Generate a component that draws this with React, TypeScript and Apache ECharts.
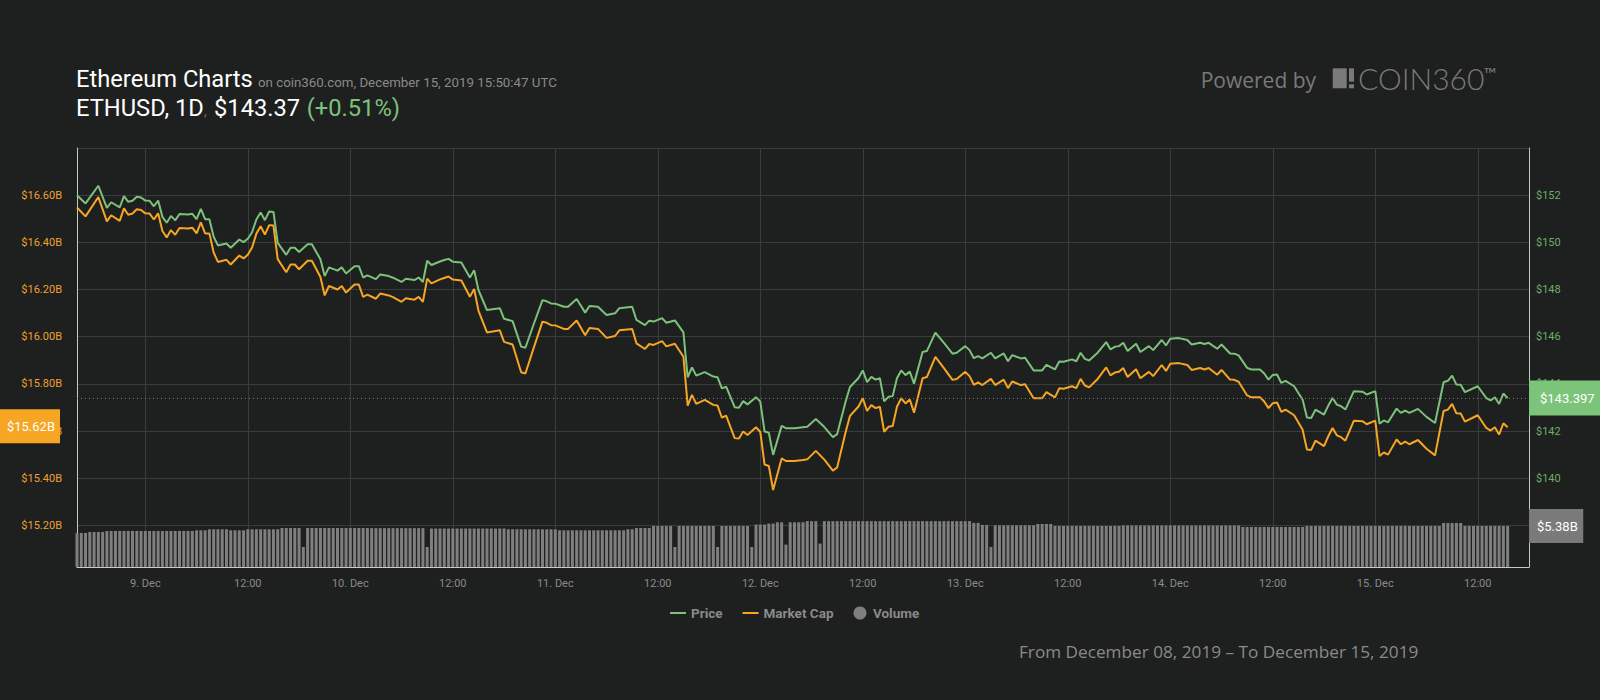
import React, { useEffect, useRef } from "react";
import * as echarts from "echarts";

// ---- data ----
// hours since 8 Dec 2019 00:00
const priceHours = [
  16, 17, 18.5, 19.5, 20, 21, 21.5, 22, 22.5, 23, 23.5, 24, 24.5, 25, 25.5, 26, 26.5, 27, 27.5, 28,
  29, 29.5, 30, 30.5, 31, 31.5, 32, 32.5, 33.5, 34, 35, 35.5, 36, 36.5, 37, 37.5, 38, 38.5, 39, 39.5,
  40.5, 41, 41.5, 42, 43, 43.5, 44.5, 45, 45.5, 46.5, 47, 47.5, 48.5, 49, 49.5, 50, 51, 51.5, 52.5, 53,
  54, 54.5, 55.5, 56, 56.5, 57, 57.5, 58.5, 59, 59.5, 60, 61, 62, 62.5, 63, 64, 65.5, 66, 67, 68,
  68.5, 69.5, 70.5, 71, 71.5, 72, 73, 73.5, 74.5, 75.5, 76, 77, 78, 79, 79.5, 81, 81.5, 82.5, 83, 83.5,
  84.5, 85, 86, 87, 87.5, 88, 88.5, 89.5, 90.5, 91, 91.5, 92, 93, 93.5, 94, 94.5, 95.5, 96, 96.5, 97,
  97.5, 98.5, 99, 100, 101, 101.5, 102.5, 103.5, 104.5, 105, 106, 106.5, 107.5, 108, 108.5, 109, 109.5, 110, 110.5, 111,
  111.5, 112, 112.5, 113, 113.5, 114, 115, 115.5, 116.5, 117.5, 118.5, 119, 120, 120.5, 121, 121.5, 122, 123, 123.5, 124.5,
  125, 125.5, 126.5, 127, 128, 129, 129.5, 130.5, 131, 131.5, 132.5, 133, 133.5, 134, 134.5, 135.5, 136.5, 137, 137.5, 138,
  138.5, 139, 140, 140.5, 141.5, 142, 143, 143.5, 144, 145, 146, 146.5, 147.5, 148, 148.5, 149.5, 150, 151, 151.5, 152,
  153, 153.5, 154.5, 155, 155.5, 156, 156.5, 157, 157.5, 158.5, 159.5, 160, 160.5, 161, 162, 162.5, 163, 163.5, 164, 164.5,
  165.5, 166.5, 167, 168, 168.5, 169, 169.5, 170.5, 171, 171.5, 172, 173, 174, 175, 176, 176.5, 177, 177.5, 178, 178.5,
  180, 181, 181.5, 182, 182.5, 183, 183.5,
];

const priceUsd = [
  152.0, 151.65, 152.4, 151.46, 151.7, 151.48, 151.96, 151.72, 151.76, 151.93, 151.9, 151.77, 151.76, 151.53, 151.77, 151.08, 150.83, 151.12, 150.93, 151.2,
  151.18, 151.21, 150.98, 151.42, 150.98, 150.98, 150.24, 149.87, 149.95, 149.77, 150.12, 150.01, 150.15, 150.43, 150.97, 151.27, 150.94, 151.31, 151.29, 149.98,
  149.47, 149.77, 149.77, 149.59, 149.92, 149.92, 149.28, 148.57, 148.94, 148.8, 148.94, 148.68, 148.99, 148.99, 148.51, 148.6, 148.44, 148.64, 148.57, 148.5,
  148.32, 148.46, 148.4, 148.51, 148.32, 149.22, 149.04, 149.19, 149.25, 149.3, 149.18, 149.15, 148.51, 148.82, 147.98, 147.13, 147.21, 146.76, 146.66, 145.58,
  145.53, 146.56, 147.55, 147.5, 147.41, 147.4, 147.27, 147.27, 147.6, 147.02, 147.3, 147.27, 146.92, 146.99, 147.21, 147.27, 146.71, 146.49, 146.68, 146.64,
  146.79, 146.59, 146.69, 146.18, 144.28, 144.7, 144.35, 144.5, 144.31, 144.28, 143.81, 143.88, 143.01, 142.99, 143.27, 143.13, 143.43, 143.25, 141.98, 141.93,
  140.99, 142.22, 142.12, 142.12, 142.16, 142.18, 142.51, 142.17, 141.74, 141.87, 143.26, 143.87, 144.25, 144.57, 144.07, 144.3, 144.18, 144.24, 143.26, 143.45,
  143.48, 144.24, 144.57, 144.37, 144.52, 144.01, 145.35, 145.39, 146.17, 145.74, 145.28, 145.32, 145.6, 145.43, 145.09, 145.18, 145.08, 145.32, 145.08, 145.29,
  144.96, 145.22, 145.08, 145.11, 144.57, 144.57, 144.81, 144.61, 144.95, 144.94, 145.04, 144.96, 145.32, 145.06, 144.99, 145.32, 145.77, 145.46, 145.57, 145.6,
  145.74, 145.39, 145.7, 145.35, 145.6, 145.43, 145.86, 145.63, 145.91, 145.94, 145.86, 145.67, 145.74, 145.69, 145.74, 145.49, 145.67, 145.29, 145.28, 145.21,
  144.68, 144.61, 144.61, 144.44, 144.18, 144.38, 144.4, 144.04, 144.13, 143.9, 143.33, 142.57, 142.55, 142.91, 142.7, 143.08, 143.4, 143.12, 143.05, 142.91,
  143.69, 143.67, 143.55, 143.69, 142.31, 142.45, 142.37, 142.95, 142.77, 142.87, 142.77, 142.94, 142.6, 142.34, 144.07, 144.13, 144.35, 143.97, 143.96, 143.65,
  143.9, 143.4, 143.3, 143.43, 143.15, 143.59, 143.397,
];

// billions of USD
const marketCapB = [
  16.548, 16.51, 16.592, 16.489, 16.515, 16.491, 16.544, 16.517, 16.522, 16.54, 16.537, 16.523, 16.522, 16.497, 16.523, 16.448, 16.421, 16.452, 16.432, 16.461,
  16.459, 16.462, 16.438, 16.485, 16.438, 16.438, 16.357, 16.317, 16.326, 16.306, 16.344, 16.332, 16.347, 16.378, 16.437, 16.468, 16.433, 16.473, 16.471, 16.329,
  16.273, 16.306, 16.306, 16.286, 16.322, 16.322, 16.253, 16.175, 16.215, 16.2, 16.215, 16.187, 16.221, 16.221, 16.169, 16.178, 16.161, 16.183, 16.175, 16.168,
  16.148, 16.163, 16.157, 16.169, 16.148, 16.246, 16.226, 16.243, 16.249, 16.255, 16.242, 16.238, 16.169, 16.202, 16.111, 16.018, 16.027, 15.978, 15.967, 15.849,
  15.844, 15.956, 16.064, 16.059, 16.049, 16.048, 16.033, 16.033, 16.069, 16.006, 16.037, 16.033, 15.995, 16.003, 16.027, 16.033, 15.972, 15.948, 15.969, 15.965,
  15.981, 15.959, 15.97, 15.915, 15.708, 15.753, 15.715, 15.732, 15.711, 15.708, 15.657, 15.665, 15.57, 15.568, 15.598, 15.583, 15.616, 15.596, 15.458, 15.452,
  15.35, 15.484, 15.473, 15.473, 15.477, 15.48, 15.516, 15.479, 15.432, 15.446, 15.597, 15.664, 15.704, 15.739, 15.685, 15.71, 15.697, 15.703, 15.597, 15.618,
  15.621, 15.703, 15.739, 15.717, 15.734, 15.678, 15.824, 15.829, 15.914, 15.867, 15.817, 15.821, 15.851, 15.833, 15.796, 15.806, 15.795, 15.821, 15.795, 15.818,
  15.782, 15.81, 15.795, 15.798, 15.739, 15.739, 15.765, 15.743, 15.781, 15.779, 15.79, 15.782, 15.821, 15.793, 15.785, 15.821, 15.87, 15.836, 15.848, 15.851,
  15.867, 15.829, 15.862, 15.824, 15.851, 15.833, 15.88, 15.855, 15.885, 15.888, 15.88, 15.859, 15.867, 15.861, 15.867, 15.839, 15.859, 15.818, 15.817, 15.809,
  15.751, 15.743, 15.743, 15.725, 15.697, 15.718, 15.721, 15.681, 15.691, 15.667, 15.605, 15.522, 15.52, 15.559, 15.536, 15.578, 15.613, 15.582, 15.574, 15.559,
  15.644, 15.642, 15.629, 15.644, 15.494, 15.509, 15.5, 15.564, 15.544, 15.555, 15.544, 15.562, 15.525, 15.497, 15.685, 15.691, 15.715, 15.675, 15.674, 15.64,
  15.667, 15.613, 15.602, 15.616, 15.585, 15.633, 15.616,
];

// 24h volume, billions of USD, one bar every half hour from 8 Dec 16:00
const VOLUME_START_HOUR = 16;
const volumeB = [
  4.47, 4.47, 4.47, 4.6, 4.6, 4.6, 4.6,
  4.73, 4.73, 4.73, 4.73, 4.73, 4.73, 4.73, 4.73, 4.73, 4.73, 4.73, 4.73, 4.73, 4.73, 4.73, 4.73, 4.73, 4.73, 4.73, 4.73, 4.73,
  4.82, 4.82, 4.82, 4.95, 4.95, 4.95, 4.95, 4.95, 4.82, 4.82, 4.82, 4.82,
  4.95, 4.95, 4.95, 4.95, 4.95, 4.95, 4.95, 4.95,
  5.12, 5.12, 5.12, 5.12, 5.12, 2.63,
  5.12, 5.12, 5.12, 5.12, 5.12, 5.12, 5.12, 5.12, 5.12, 5.12, 5.12, 5.12, 5.12, 5.12, 5.12,
  5.1, 5.1, 5.1, 5.1, 5.1, 5.1, 5.1, 5.1, 5.1, 5.1, 5.1, 5.1, 5.1, 2.63,
  5.05, 5.05, 5.05, 5.05, 5.05, 5.05, 5.05, 5.05, 5.05, 5.05, 5.05, 5.05, 5.05, 5.05, 5.05, 5.05, 5.05, 5.05,
  4.95, 4.95, 4.95, 4.95, 4.95, 4.95, 4.95, 4.95, 4.95, 4.95, 4.95, 4.95,
  4.82, 4.82, 4.82, 4.82, 4.82, 4.82, 4.82, 4.82, 4.82, 4.82, 4.82, 4.82, 4.82, 4.82, 4.82, 4.82,
  4.95, 4.95, 5.12, 5.12, 5.12, 5.12,
  5.38, 5.38, 5.38, 5.38, 5.38, 2.63,
  5.38, 5.38, 5.38, 5.38, 5.38, 5.38, 5.38, 5.38, 5.38, 2.63,
  5.38, 5.38, 5.38, 5.38, 5.38, 5.38, 5.38, 2.63,
  5.57, 5.57, 5.57, 5.7, 5.7, 5.87, 5.87, 2.94, 5.87, 5.87, 5.87, 5.87,
  6.02, 6.02, 6.02, 3.07,
  6.02, 6.02, 6.02, 6.02, 6.02, 6.02, 6.02, 6.02, 6.02, 6.02, 6.02, 6.02, 6.02, 6.02, 6.02, 6.02, 6.02, 6.02,
  6.02, 6.02, 6.02, 6.02, 6.02, 6.02, 6.02, 6.02, 6.02, 6.02, 6.02, 6.02, 6.02, 6.02, 6.02, 6.02, 6.02,
  5.8, 5.8, 5.52, 5.52, 2.63,
  5.47, 5.47, 5.47, 5.47, 5.47, 5.47, 5.47, 5.47, 5.47, 5.47,
  5.65, 5.65, 5.65, 5.65,
  5.38, 5.38, 5.38, 5.38, 5.38, 5.38, 5.38, 5.38, 5.38, 5.38, 5.38, 5.38, 5.38, 5.38, 5.38, 5.38,
  5.45, 5.45, 5.45, 5.45, 5.45, 5.45, 5.45, 5.45, 5.45, 5.45, 5.45, 5.45, 5.45, 5.45,
  5.45, 5.45, 5.45, 5.45, 5.45, 5.45, 5.45, 5.45, 5.45, 5.45, 5.45, 5.45, 5.45, 5.45,
  5.25, 5.25, 5.25, 5.25, 5.25, 5.25, 5.25, 5.25, 5.25, 5.25, 5.25, 5.25, 5.25, 5.25, 5.25,
  5.38, 5.38, 5.38, 5.38, 5.38, 5.38, 5.38, 5.38, 5.38, 5.38, 5.38, 5.38, 5.38, 5.38, 5.38, 5.38,
  5.38, 5.38, 5.38, 5.38, 5.38, 5.38, 5.38, 5.38, 5.38, 5.38, 5.38, 5.38, 5.38, 5.38, 5.38, 5.38,
  5.78, 5.78, 5.78, 5.78, 5.78,
  5.38, 5.38, 5.38, 5.38, 5.38, 5.38, 5.38, 5.38, 5.38, 5.38, 5.38,
];

const xLabelHours = [24, 36, 48, 60, 72, 84, 96, 108, 120, 132, 144, 156, 168, 180];
const LAST_PRICE = 143.397;
const LAST_MCAP = 15.616;
const LAST_VOLUME = 5.38;

// ---- styles ----
const BG = "#1e1f1f";
const GRID = "#3a3b3b";
const AXIS = "#c8c8c8";
const GREEN = "#7cc27a";
const GREEN_BOX = "#7cc47a";
const GREEN_LABEL = "#6fae6a";
const ORANGE = "#f6a623";
const ORANGE_LABEL = "#f0a12e";
const VOL = "#7f7f7f";
const MUTED = "#8a8a8a";
const LINE_ICON = "path://M0 0H16V2H0Z";
const HIDDEN_LINE = { color: "rgba(0,0,0,0)", width: 0 };

export default function App() {
  const ref = useRef<HTMLDivElement>(null);

  useEffect(() => {
    document.body.style.margin = "0";
    document.body.style.background = BG;
    const chart = echarts.init(ref.current as HTMLDivElement, null, { renderer: "svg" });

    const priceData = priceHours.map((h, i) => [h, priceUsd[i]]);
    const mcapData = priceHours.map((h, i) => [h, marketCapB[i]]);
    const volData = volumeB.map((v, i) => [VOLUME_START_HOUR + i * 0.5, v]);

    const boxLabel = (text: string, bg: string, padding: number[], position: string, distance: number) => ({
      show: true,
      position,
      distance,
      formatter: text,
      backgroundColor: bg,
      color: "#ffffff",
      opacity: 1,
      fontSize: 13,
      fontFamily: "Roboto",
      lineHeight: 14,
      padding,
    });

    const option: any = {
      animation: false,
      backgroundColor: BG,
      textStyle: { fontFamily: "Roboto" },
      grid: { left: 77, right: 71, top: 148, bottom: 133 },
      legend: {
        left: 665,
        top: 601,
        itemWidth: 16,
        itemHeight: 13,
        itemGap: 20,
        textStyle: { color: MUTED, fontSize: 13.5, fontWeight: "bold", fontFamily: "Roboto" },
        data: [
          { name: "Price", icon: LINE_ICON },
          { name: "Market Cap", icon: LINE_ICON },
          { name: "Volume", icon: "circle" },
        ],
      },
      xAxis: {
        type: "value",
        min: 16,
        max: 186,
        axisLine: { show: true, lineStyle: { color: AXIS, width: 1 } },
        axisTick: { show: false, customValues: xLabelHours },
        splitLine: { show: true, lineStyle: { color: GRID, width: 1 } },
        axisLabel: {
          customValues: xLabelHours,
          color: MUTED,
          fontSize: 11,
          margin: 11,
          formatter: (v: number) => (v % 24 === 0 ? `${8 + v / 24}. Dec` : "12:00"),
        },
      },
      yAxis: [
        {
          type: "value",
          position: "left",
          min: 15.0236,
          max: 16.8,
          splitNumber: 8,
          axisLine: { show: true, lineStyle: { color: AXIS, width: 1 } },
          axisTick: { show: false },
          splitLine: { show: true, lineStyle: { color: GRID, width: 1 } },
          axisLabel: {
            color: ORANGE_LABEL,
            fontSize: 11,
            margin: 15,
            formatter: (v: number) => {
              const k = Math.round(v / 0.2);
              if (Math.abs(v - k * 0.2) > 1e-6 || v > 16.7 || v < 15.1) return "";
              return "$" + v.toFixed(2) + "B";
            },
          },
        },
        {
          type: "value",
          position: "right",
          min: 136.236,
          max: 154,
          splitNumber: 8,
          axisLine: { show: true, lineStyle: { color: AXIS, width: 1 } },
          axisTick: { show: false },
          splitLine: { show: false },
          axisLabel: {
            color: GREEN_LABEL,
            fontSize: 11,
            margin: 7,
            formatter: (v: number) => {
              if (Math.abs(v - Math.round(v)) > 1e-6 || v > 153 || v < 139) return "";
              return "$" + Math.round(v);
            },
          },
        },
        {
          type: "value",
          min: 0,
          max: 55,
          show: false,
          splitLine: { show: false },
        },
      ],
      series: [
        {
          name: "Price",
          type: "line",
          yAxisIndex: 1,
          data: priceData,
          showSymbol: false,
          symbol: "none",
          color: GREEN,
          lineStyle: { color: GREEN, width: 2 },
          z: 4,
          markLine: {
            silent: true,
            symbol: ["none", "none"],
            lineStyle: { color: "#7a7a7a", type: [1, 3], width: 1 },
            label: boxLabel("$" + LAST_PRICE.toFixed(3), GREEN_BOX, [10.5, 15, 10.5, 11], "end", 0),
            data: [{ yAxis: LAST_PRICE }],
          },
        },
        {
          name: "Market Cap",
          type: "line",
          yAxisIndex: 0,
          data: mcapData,
          showSymbol: false,
          symbol: "none",
          color: ORANGE,
          lineStyle: { color: ORANGE, width: 2 },
          z: 3,
          markLine: {
            silent: true,
            symbol: ["none", "none"],
            lineStyle: HIDDEN_LINE,
            label: boxLabel("$" + LAST_MCAP.toFixed(2) + "B", ORANGE, [10, 5, 10, 8], "start", 17),
            data: [{ yAxis: LAST_MCAP }],
          },
        },
        {
          name: "Volume",
          type: "bar",
          yAxisIndex: 2,
          data: volData,
          barWidth: 3,
          color: VOL,
          itemStyle: { color: VOL },
          z: 2,
          markLine: {
            silent: true,
            symbol: ["none", "none"],
            lineStyle: HIDDEN_LINE,
            label: boxLabel("$" + LAST_VOLUME.toFixed(2) + "B", "#7a7a7a", [10, 5.5, 10, 8], "end", 0),
            data: [{ yAxis: LAST_VOLUME }],
          },
        },
      ],
      graphic: [
        {
          type: "text",
          x: 76,
          y: 78.8,
          style: { text: "Ethereum Charts", fill: "#ffffff", fontSize: 23.7, fontFamily: "Roboto", verticalAlign: "middle" },
        },
        {
          type: "text",
          x: 258,
          y: 82.2,
          style: {
            text: "on coin360.com, December 15, 2019 15:50:47 UTC",
            fill: MUTED,
            fontSize: 13.3,
            fontFamily: "Roboto",
            verticalAlign: "middle",
          },
        },
        {
          type: "text",
          x: 76,
          y: 108.1,
          style: { text: "ETHUSD, 1D", fill: "#ffffff", fontSize: 23.7, fontFamily: "Roboto", verticalAlign: "middle" },
        },
        {
          type: "text",
          x: 204,
          y: 111.2,
          style: { text: ",", fill: "#6a6a6a", fontSize: 14, fontFamily: "Roboto", verticalAlign: "middle" },
        },
        {
          type: "text",
          x: 214,
          y: 108.1,
          style: { text: "$143.37", fill: "#ffffff", fontSize: 23.7, fontFamily: "Roboto", verticalAlign: "middle" },
        },
        {
          type: "text",
          x: 306.7,
          y: 108.1,
          style: { text: "(+0.51%)", fill: GREEN, fontSize: 23.7, fontFamily: "Roboto", verticalAlign: "middle" },
        },
        {
          type: "text",
          x: 1200.7,
          y: 80.2,
          style: { text: "Powered by", fill: "#7a7a7a", fontSize: 21, fontFamily: "Open Sans", verticalAlign: "middle" },
        },
        { type: "rect", shape: { x: 1332.7, y: 68.3, width: 14, height: 20 }, style: { fill: "#7a7a7a" } },
        { type: "rect", shape: { x: 1349, y: 68.3, width: 5, height: 13.4 }, style: { fill: "#7a7a7a" } },
        { type: "rect", shape: { x: 1349, y: 84.3, width: 5, height: 4 }, style: { fill: "#7a7a7a" } },
        {
          type: "text",
          x: 1358,
          y: 77.5,
          style: {
            text: "COIN360",
            fill: "#7a7a7a",
            fontSize: 30,
            fontWeight: 300,
            fontFamily: "Lato",
            verticalAlign: "middle",
          },
        },
        {
          type: "text",
          x: 1484,
          y: 73,
          style: { text: "™", fill: "#7a7a7a", fontSize: 17, fontFamily: "Lato", verticalAlign: "middle" },
        },
        {
          type: "text",
          x: 1019,
          y: 651.3,
          style: {
            text: "From December 08, 2019 – To December 15, 2019",
            fill: MUTED,
            fontSize: 17.2,
            fontFamily: "Open Sans",
            verticalAlign: "middle",
          },
        },
      ],
    };

    chart.setOption(option);
    return () => chart.dispose();
  }, []);

  return <div ref={ref} style={{ width: 1600, height: 700, background: BG }} />;
}
